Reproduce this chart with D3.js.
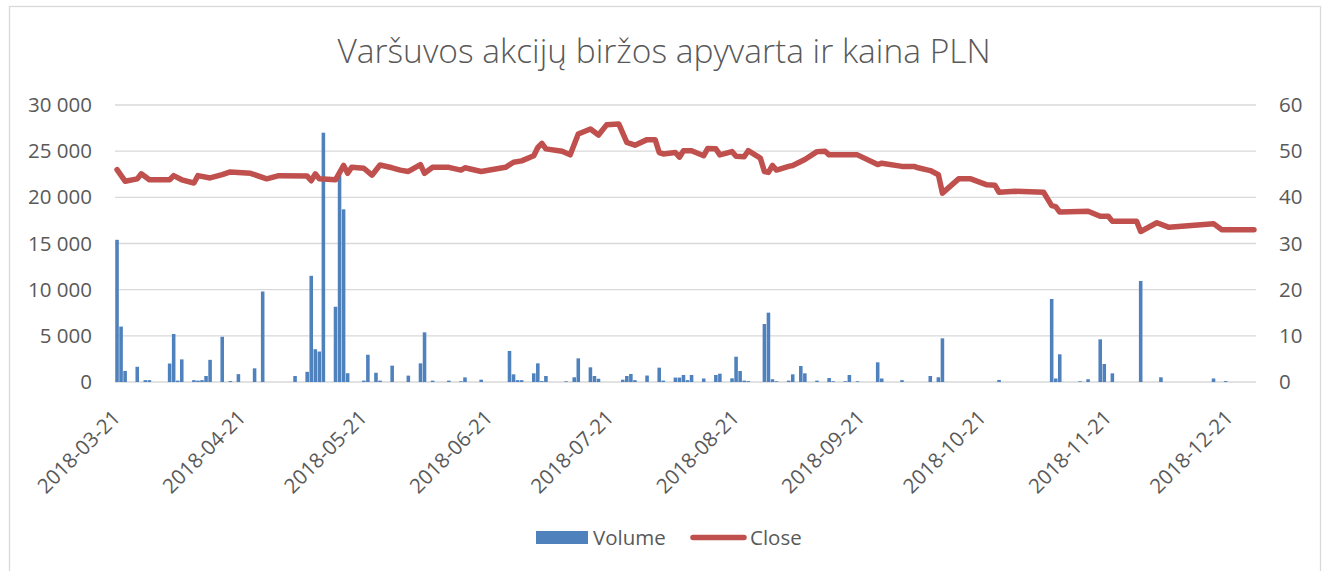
<!DOCTYPE html>
<html>
<head>
<meta charset="utf-8">
<script src="https://cdn.jsdelivr.net/npm/d3@7"></script>
<style>
  body { margin: 0; background: #fff; }
  text { font-family: "Open Sans", sans-serif; fill: #595959; }
</style>
</head>
<body>
<div class="chart"></div>
<script>
const title = "Varšuvos akcijų biržos apyvarta ir kaina PLN";

const volumeDates = [
  "2018-03-21", "2018-03-22", "2018-03-23", "2018-03-26", "2018-03-28", "2018-03-29",
  "2018-04-03", "2018-04-04", "2018-04-05", "2018-04-06", "2018-04-09", "2018-04-10",
  "2018-04-11", "2018-04-12", "2018-04-13", "2018-04-16", "2018-04-18", "2018-04-20",
  "2018-04-24", "2018-04-26", "2018-05-04", "2018-05-07", "2018-05-08", "2018-05-09",
  "2018-05-10", "2018-05-11", "2018-05-14", "2018-05-15", "2018-05-16", "2018-05-17",
  "2018-05-21", "2018-05-22", "2018-05-24", "2018-05-25", "2018-05-28", "2018-06-01",
  "2018-06-04", "2018-06-05", "2018-06-07", "2018-06-11", "2018-06-14", "2018-06-15",
  "2018-06-19", "2018-06-26", "2018-06-27", "2018-06-28", "2018-06-29", "2018-07-02",
  "2018-07-03", "2018-07-04", "2018-07-05", "2018-07-10", "2018-07-12", "2018-07-13",
  "2018-07-16", "2018-07-17", "2018-07-18", "2018-07-24", "2018-07-25", "2018-07-26",
  "2018-07-27", "2018-07-30", "2018-08-02", "2018-08-03", "2018-08-06", "2018-08-07",
  "2018-08-08", "2018-08-09", "2018-08-10", "2018-08-13", "2018-08-16", "2018-08-17",
  "2018-08-20", "2018-08-21", "2018-08-22", "2018-08-23", "2018-08-24", "2018-08-28",
  "2018-08-29", "2018-08-30", "2018-08-31", "2018-09-03", "2018-09-04", "2018-09-06",
  "2018-09-07", "2018-09-10", "2018-09-13", "2018-09-14", "2018-09-17", "2018-09-18",
  "2018-09-20", "2018-09-25", "2018-09-26", "2018-10-01", "2018-10-08", "2018-10-10",
  "2018-10-11", "2018-10-25", "2018-11-07", "2018-11-08", "2018-11-09", "2018-11-14",
  "2018-11-16", "2018-11-19", "2018-11-20", "2018-11-22", "2018-11-29", "2018-12-04",
  "2018-12-17", "2018-12-20"
];
const volumeValues = [
  15400, 6000, 1200, 1650, 200, 200,
  2000, 5200, 150, 2450, 200, 150,
  200, 650, 2400, 4900, 100, 850,
  1480, 9800, 650, 1100, 11500, 3550,
  3300, 27000, 8150, 22400, 18700, 950,
  150, 2950, 1000, 150, 1770, 690,
  2020, 5380, 150, 150, 80, 500,
  250, 3360, 830, 200, 200, 940,
  2020, 100, 650, 80, 510, 2560,
  1590, 650, 350, 250, 650, 870,
  200, 700, 1550, 150, 480, 480,
  760, 200, 760, 380, 760, 900,
  400, 2740, 1190, 150, 100, 6280,
  7510, 300, 80, 150, 830, 1730,
  940, 150, 430, 80, 80, 760,
  80, 2130, 380, 200, 650, 510,
  4730, 220, 8990, 380, 3000, 80,
  300, 4620, 1950, 940, 10940, 510,
  380, 100
];

const closeDates = [
  "2018-03-21", "2018-03-23", "2018-03-26", "2018-03-27", "2018-03-29", "2018-04-03",
  "2018-04-04", "2018-04-06", "2018-04-09", "2018-04-10", "2018-04-13", "2018-04-16",
  "2018-04-18", "2018-04-23", "2018-04-27", "2018-04-30", "2018-05-07", "2018-05-08",
  "2018-05-09", "2018-05-10", "2018-05-14", "2018-05-16", "2018-05-17", "2018-05-18",
  "2018-05-21", "2018-05-23", "2018-05-25", "2018-05-28", "2018-05-30", "2018-06-01",
  "2018-06-04", "2018-06-05", "2018-06-07", "2018-06-11", "2018-06-14", "2018-06-15",
  "2018-06-19", "2018-06-25", "2018-06-27", "2018-06-29", "2018-07-02", "2018-07-03",
  "2018-07-04", "2018-07-05", "2018-07-09", "2018-07-11", "2018-07-13", "2018-07-16",
  "2018-07-18", "2018-07-20", "2018-07-23", "2018-07-25", "2018-07-27", "2018-07-30",
  "2018-08-01", "2018-08-02", "2018-08-03", "2018-08-06", "2018-08-07", "2018-08-08",
  "2018-08-10", "2018-08-13", "2018-08-14", "2018-08-16", "2018-08-17", "2018-08-20",
  "2018-08-21", "2018-08-23", "2018-08-24", "2018-08-27", "2018-08-28", "2018-08-29",
  "2018-08-30", "2018-08-31", "2018-09-03", "2018-09-04", "2018-09-07", "2018-09-10",
  "2018-09-12", "2018-09-13", "2018-09-20", "2018-09-25", "2018-09-26", "2018-10-01",
  "2018-10-04", "2018-10-05", "2018-10-08", "2018-10-10", "2018-10-11", "2018-10-15",
  "2018-10-18", "2018-10-22", "2018-10-24", "2018-10-25", "2018-10-29", "2018-11-05",
  "2018-11-07", "2018-11-08", "2018-11-09", "2018-11-16", "2018-11-19", "2018-11-21",
  "2018-11-22", "2018-11-28", "2018-11-29", "2018-12-03", "2018-12-06", "2018-12-17",
  "2018-12-19", "2018-12-27"
];
const closeValues = [
  46.0, 43.5, 44.0, 45.1, 43.8, 43.8,
  44.7, 43.8, 43.1, 44.7, 44.2, 44.9,
  45.5, 45.2, 44.0, 44.7, 44.6, 43.6,
  45.1, 44.0, 43.8, 46.9, 45.2, 46.5,
  46.3, 44.8, 47.0, 46.4, 45.9, 45.6,
  47.1, 45.2, 46.5, 46.5, 45.9, 46.4,
  45.6, 46.5, 47.6, 47.9, 49.0, 50.8,
  51.7, 50.5, 50.0, 49.2, 53.7, 54.8,
  53.5, 55.7, 55.9, 51.9, 51.3, 52.5,
  52.5, 49.7, 49.4, 49.7, 48.7, 50.1,
  50.1, 49.0, 50.6, 50.5, 49.2, 49.9,
  48.9, 48.8, 50.1, 48.5, 45.6, 45.4,
  46.9, 45.9, 46.7, 46.9, 48.2, 49.9,
  50.0, 49.2, 49.2, 47.1, 47.4, 46.7,
  46.7, 46.4, 45.8, 44.9, 40.9, 44.0,
  44.0, 42.7, 42.6, 41.1, 41.3, 41.1,
  38.2, 38.0, 36.8, 37.0, 35.9, 35.9,
  34.8, 34.8, 32.6, 34.5, 33.5, 34.3,
  33.0, 33.0
];

const xTickLabels = [
  "2018-03-21", "2018-04-21", "2018-05-21", "2018-06-21", "2018-07-21",
  "2018-08-21", "2018-09-21", "2018-10-21", "2018-11-21", "2018-12-21"
];
const volumeTicks = [0, 5000, 10000, 15000, 20000, 25000, 30000];
const closeTicks = [0, 10, 20, 30, 40, 50, 60];
const axisStart = "2018-03-21";
const axisEnd = "2018-12-28";

const width = 1327;
const height = 571;
const plot = { left: 115, right: 1256, top: 105, bottom: 382 };

const parse = d3.utcParse("%Y-%m-%d");
const locale = d3.formatLocale({ decimal: ",", thousands: " ", grouping: [3], currency: ["", ""] });

const svg = d3
  .select(".chart")
  .append("svg")
  .attr("width", width)
  .attr("height", height);

// chart frame
svg
  .append("rect")
  .attr("x", 9.5)
  .attr("y", 6.5)
  .attr("width", 1311)
  .attr("height", 580)
  .attr("fill", "#fff")
  .attr("stroke", "#d9d9d9")
  .attr("stroke-width", 1.3);

const x = d3
  .scaleUtc()
  .domain([parse(axisStart), parse(axisEnd)])
  .range([plot.left, plot.right]);
const slot = x(parse("2018-03-22")) - x(parse("2018-03-21"));

const yLeft = d3.scaleLinear().domain([0, 30000]).range([plot.bottom, plot.top]);
const yRight = d3.scaleLinear().domain([0, 60]).range([plot.bottom, plot.top]);

// grid lines
svg
  .append("g")
  .selectAll("line")
  .data(volumeTicks)
  .join("line")
  .attr("x1", plot.left)
  .attr("x2", plot.right)
  .attr("y1", (d) => yLeft(d))
  .attr("y2", (d) => yLeft(d))
  .attr("stroke", "#d9d9d9")
  .attr("stroke-width", 1.3);

// axes
const leftAxis = svg
  .append("g")
  .attr("transform", `translate(${plot.left},0)`)
  .call(d3.axisLeft(yLeft).tickValues(volumeTicks).tickSize(0).tickPadding(23).tickFormat(locale.format(",d")));

const rightAxis = svg
  .append("g")
  .attr("transform", `translate(${plot.right},0)`)
  .call(d3.axisRight(yRight).tickValues(closeTicks).tickSize(0).tickPadding(23));

const xAxis = svg
  .append("g")
  .attr("transform", `translate(${slot / 2},${plot.bottom})`)
  .call(d3.axisBottom(x).tickValues(xTickLabels.map(parse)).tickSize(0).tickFormat(d3.utcFormat("%Y-%m-%d")));

[leftAxis, rightAxis, xAxis].forEach((g) => {
  g.select(".domain").remove();
  g.attr("font-family", null).attr("font-size", null);
  g.selectAll("text").attr("font-size", "20.5px").attr("fill", "#595959");
});

xAxis
  .selectAll("text")
  .attr("text-anchor", "end")
  .attr("x", 0)
  .attr("y", 0)
  .attr("dy", null)
  .attr("transform", "translate(4,37) rotate(-45)");

// volume bars
svg
  .append("g")
  .selectAll("rect")
  .data(volumeDates.map((d, i) => ({ date: parse(d), value: volumeValues[i] })))
  .join("rect")
  .attr("x", (d) => x(d.date) + slot * 0.06)
  .attr("width", slot * 0.88)
  .attr("y", (d) => yLeft(d.value))
  .attr("height", (d) => plot.bottom - yLeft(d.value))
  .attr("fill", "#4f81bd");

// close line
const line = d3
  .line()
  .x((d) => x(d.date) + slot / 2)
  .y((d) => yRight(d.value));

svg
  .append("path")
  .datum(closeDates.map((d, i) => ({ date: parse(d), value: closeValues[i] })))
  .attr("fill", "none")
  .attr("stroke", "#c0504d")
  .attr("stroke-width", 5.5)
  .attr("stroke-linejoin", "round")
  .attr("stroke-linecap", "round")
  .attr("d", line);

// title
svg
  .append("text")
  .attr("x", 664)
  .attr("y", 63)
  .attr("text-anchor", "middle")
  .attr("font-size", "33.5px")
  .attr("font-weight", 300)
  .text(title);

// legend
const legend = svg.append("g").attr("font-size", "20.5px");
legend
  .append("rect")
  .attr("x", 536)
  .attr("y", 531)
  .attr("width", 52)
  .attr("height", 13)
  .attr("fill", "#4f81bd");
legend.append("text").attr("x", 593).attr("y", 544.5).text("Volume");
legend
  .append("line")
  .attr("x1", 693)
  .attr("x2", 744)
  .attr("y1", 537.5)
  .attr("y2", 537.5)
  .attr("stroke", "#c0504d")
  .attr("stroke-width", 5.5)
  .attr("stroke-linecap", "round");
legend.append("text").attr("x", 750).attr("y", 544.5).text("Close");
</script>
</body>
</html>
